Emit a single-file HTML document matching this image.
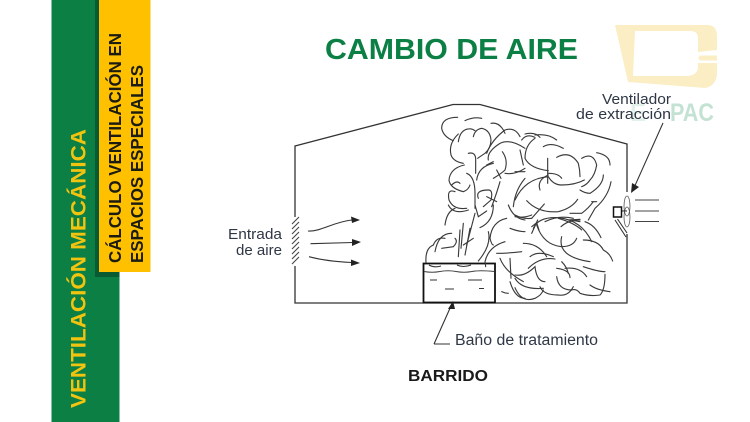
<!DOCTYPE html>
<html><head><meta charset="utf-8"><style>
html,body{margin:0;padding:0;background:#fff}
svg{display:block}
text{font-family:"Liberation Sans",sans-serif}
</style></head><body>
<svg width="750" height="422" viewBox="0 0 750 422" xmlns="http://www.w3.org/2000/svg">
<rect width="750" height="422" fill="#fff"/>
<rect x="51.500" y="0" width="68" height="422" fill="#0c7f45"/>
<rect x="95" y="0" width="24.500" height="277" fill="#075a32"/>
<rect x="99" y="0" width="51.500" height="272" fill="#ffc000"/>
<text transform="translate(85.500,408) rotate(-90)" font-size="21.500" font-weight="bold" fill="#f2c40f" textLength="279" lengthAdjust="spacingAndGlyphs">VENTILACIÓN MECÁNICA</text>
<text transform="translate(121,263) rotate(-90)" font-size="17.500" font-weight="bold" fill="#1c1c10" textLength="230" lengthAdjust="spacingAndGlyphs">CÁLCULO VENTILACIÓN EN</text>
<text transform="translate(143,263) rotate(-90)" font-size="17.500" font-weight="bold" fill="#1c1c10" textLength="198" lengthAdjust="spacingAndGlyphs">ESPACIOS ESPECIALES</text>
<text x="325" y="59" font-size="29" font-weight="bold" fill="#0c7f45" textLength="253" lengthAdjust="spacingAndGlyphs">CAMBIO DE AIRE</text>
<text x="408" y="381" font-size="16" font-weight="bold" fill="#1a1a1a" textLength="80" lengthAdjust="spacingAndGlyphs">BARRIDO</text>

<path fill="#fbeec4" d="M615 25H707Q717 25 717 36V50L698 52V38Q698 31 690 31H635L633 76H688Q697 75 698 68V63H717V74Q716 86 705 88L628 82Z"/>
<path fill="#fbeec4" d="M700 55.500H717V60.500H700Q697 58 700 55.500Z"/>
<text x="630" y="121" font-size="25" font-weight="bold" fill="#e2f1ea" textLength="16" lengthAdjust="spacingAndGlyphs">E</text>
<text x="670" y="121" font-size="25" font-weight="bold" fill="#c4e2d4" textLength="44" lengthAdjust="spacingAndGlyphs">PAC</text>

<g fill="none" stroke="#333" stroke-width="1.300">
<path d="M295 217V146L453 104.500H480L627 144V192"/>
<path d="M295 266V303H627V234"/>
</g>
<g stroke="#444" stroke-width="1.100" fill="none">
<path d="M292 224L299 217M292 229L299 222M292 234L299 227M292 239L299 232M292 244L299 237M292 249L299 242M292 254L299 247M292 259L299 252M292 264L299 257"/>
</g>
<g fill="none" stroke="#333" stroke-width="1.100">
<path d="M308 231C320 232 333 222 352 220"/>
<path d="M310.500 243.700L353 242.500"/>
<path d="M309 256.700C325 261 340 262 352 262.500"/>
</g>
<g fill="#222">
<path d="M360 220L351 216.500L352 223Z"/>
<path d="M361 242L352 239L352 246Z"/>
<path d="M360 263L351 259.500L351 266Z"/>
</g>

<rect x="423.500" y="263.500" width="71.500" height="39" fill="#fff" stroke="#111" stroke-width="1.800"/>
<path d="M424 271.500Q432 273 440 271.500T456 271.500T472 271.500T494 271.500" fill="none" stroke="#444" stroke-width="1.100"/>
<path d="M430 280H437M468 280H482M445 289H454M479 288.500H484" stroke="#333" stroke-width="1.100" fill="none"/>
<path d="M429 265Q434 268 441 266M457 265Q463 268 471 265" stroke="#333" stroke-width="1.100" fill="none"/>

<g fill="none" stroke="#333" stroke-width="1.100">
<path d="M434 344H450M434 344L451 306"/>
<path d="M663 123L633 190"/>
<ellipse cx="627" cy="206" rx="3" ry="10" stroke-width=".8" stroke="#555"/>
<ellipse cx="627" cy="217" rx="3" ry="10" stroke-width=".8" stroke="#555"/>
<path d="M621 211H627"/>
<path d="M635 200H659M635 211H659M635 221.500H659" stroke="#444"/>
<path d="M615 220L626 237M617.500 219L627 233"/>
</g>
<rect x="613.500" y="207" width="8" height="10" fill="#fff" stroke="#111" stroke-width="1.500"/>
<path d="M453 301L448 309L455 309Z" fill="#222"/>
<path d="M631 193L632 183L639 187Z" fill="#222"/>

<g fill="none" stroke="#3a3a3a" stroke-width="3.400" stroke-linecap="round">
<g transform="translate(425 110) scale(.33333)">
<path d="M98 22Q50 22 50 55Q55 80 85 92"/>
<path d="M120 32Q145 20 170 25"/>
<path d="M100 95Q105 60 130 57Q140 55 150 62"/>
<path d="M145 80Q150 58 170 55Q195 60 198 90Q197 115 180 130Q165 140 158 145"/>
<path d="M100 72Q70 100 78 135Q85 155 115 160"/>
<path d="M130 130Q150 125 152 145V190"/>
<path d="M118 165Q75 175 72 210Q75 235 115 245Q130 240 135 225"/>
<path d="M80 225Q95 210 105 220"/>
<path d="M125 190Q150 200 150 250V295"/>
<path d="M90 245Q65 235 72 270Q85 300 125 295"/>
<path d="M198 40Q225 35 240 70"/>
<path d="M185 130Q200 90 240 60Q270 50 285 80"/>
<path d="M190 150Q185 125 225 100Q255 85 300 115"/>
<path d="M185 165L205 155"/>
<path d="M155 210Q160 170 205 160"/>
<path d="M232 125Q250 150 240 180Q230 190 205 205"/>
<path d="M240 190Q270 195 300 175"/>
<path d="M215 180L228 205"/>
<path d="M160 265Q150 240 190 240Q205 240 198 270L175 290"/>
<path d="M185 260L215 275"/>
<path d="M225 215Q215 250 200 290"/>
<path d="M285 120L295 165"/>
<path d="M300 205Q270 240 265 290"/>
</g>
<g transform="translate(515 130) scale(.33333)">
<path d="M30 12Q60 5 75 22"/>
<path d="M20 30Q35 10 60 22"/>
<path d="M85 50Q110 35 145 55"/>
<path d="M60 15Q100 10 125 30"/>
<path d="M60 25Q30 45 30 85Q45 115 100 122"/>
<path d="M98 85V160"/>
<path d="M125 82Q165 60 190 100Q195 120 195 140"/>
<path d="M200 85Q235 65 245 105Q240 135 225 150Q215 165 200 170"/>
<path d="M245 68Q285 75 285 105"/>
<path d="M265 135Q265 165 225 190Q210 190 195 180"/>
<path d="M288 155Q280 200 240 235L220 270"/>
<path d="M230 215L245 215"/>
<path d="M0 210Q30 145 100 140Q115 165 140 165Q180 165 208 150"/>
<path d="M75 180Q65 150 100 135"/>
<path d="M100 130Q130 130 140 145"/>
<path d="M35 212Q70 250 130 245Q170 235 188 208"/>
<path d="M88 222L50 265"/>
<path d="M0 255Q25 268 50 265"/>
<path d="M165 250H200Q220 235 235 215"/>
<path d="M0 125L30 125"/>
<path d="M50 290L65 278L72 300"/>
<path d="M90 275Q130 255 175 265"/>
<path d="M130 265Q180 280 200 300"/>
<path d="M160 270L195 268"/>
</g>
<g transform="translate(425 205) scale(.33333)">
<path d="M70 0Q85 30 130 15"/>
<path d="M90 10Q65 20 60 60"/>
<path d="M150 0L160 35L185 18"/>
<path d="M205 0Q205 50 165 68"/>
<path d="M150 25L125 120"/>
<path d="M115 55L108 130"/>
<path d="M105 75L100 155"/>
<path d="M145 100L115 120"/>
<path d="M135 70L120 150"/>
<path d="M50 130L85 125Q100 110 90 100"/>
<path d="M80 85Q40 85 30 140"/>
<path d="M60 100Q35 95 25 120"/>
<path d="M25 120Q0 130 3 172"/>
<path d="M190 80Q200 120 160 168"/>
<path d="M245 40Q200 50 195 100Q200 120 205 120"/>
<path d="M240 110Q190 125 180 170L182 185"/>
<path d="M215 145Q250 145 290 140"/>
<path d="M250 0Q265 40 300 45"/>
<path d="M255 70Q280 80 300 80"/>
<path d="M225 160Q240 200 295 230"/>
<path d="M255 160L258 220"/>
<path d="M255 230Q270 280 300 280"/>
<path d="M230 260Q240 265 250 265"/>
</g>
<g transform="translate(515 215) scale(.33333)">
<path d="M0 5Q25 10 50 0"/>
<path d="M68 15L50 55"/>
<path d="M55 40Q70 5 130 8Q200 15 230 80"/>
<path d="M205 75Q250 75 265 105Q285 115 293 138"/>
<path d="M138 35Q160 15 195 15"/>
<path d="M165 15L195 20"/>
<path d="M140 65Q125 125 225 140"/>
<path d="M210 20Q240 30 258 68"/>
<path d="M65 30Q85 90 140 95Q175 95 185 70"/>
<path d="M25 85Q70 85 95 125"/>
<path d="M45 125Q70 105 115 125"/>
<path d="M40 160Q75 125 120 132"/>
<path d="M0 180Q30 185 60 155Q65 200 90 200"/>
<path d="M125 160Q165 165 165 188"/>
<path d="M140 140Q155 155 160 175"/>
<path d="M150 160Q195 155 215 185"/>
<path d="M205 155Q250 170 270 170"/>
<path d="M125 185Q130 225 170 225Q185 220 195 235Q225 245 255 240Q270 225 270 178"/>
<path d="M225 210Q245 225 285 230"/>
<path d="M75 215Q85 240 130 240Q160 245 175 215"/>
<path d="M0 190Q20 225 85 220"/>
<path d="M0 218Q20 265 60 250Q80 240 85 225"/>
</g>
</g>

<g font-size="15" fill="#2f3745">
<text x="228" y="239" textLength="54" lengthAdjust="spacingAndGlyphs">Entrada</text>
<text x="236" y="255" textLength="46" lengthAdjust="spacingAndGlyphs">de aire</text>
<text x="602" y="104" textLength="69" lengthAdjust="spacingAndGlyphs">Ventilador</text>
<text x="576" y="119" textLength="95" lengthAdjust="spacingAndGlyphs">de extracción</text>
<text x="455" y="345" font-size="15.500" textLength="143" lengthAdjust="spacingAndGlyphs">Baño de tratamiento</text>
</g>
</svg>
</body></html>
